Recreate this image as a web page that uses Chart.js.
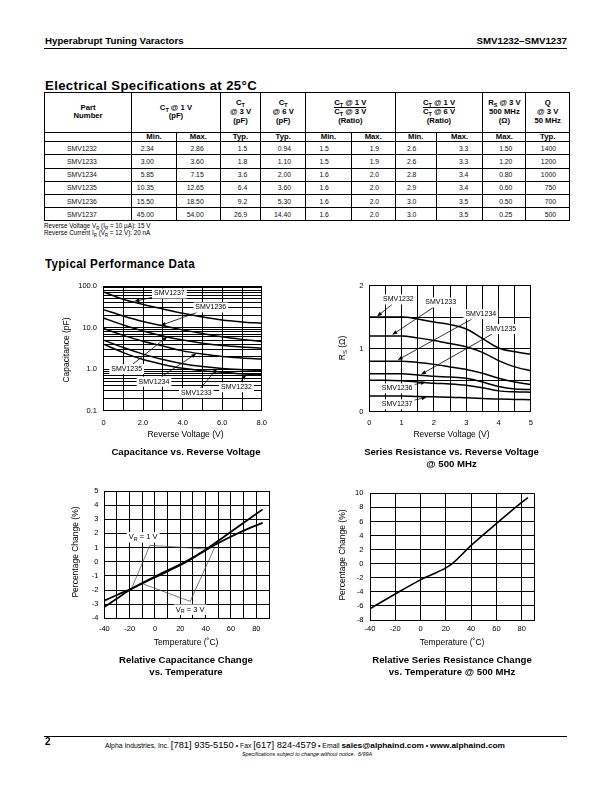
<!DOCTYPE html>
<html>
<head>
<meta charset="utf-8">
<script src="https://cdn.jsdelivr.net/npm/chart.js@4.4.0/dist/chart.umd.min.js"></script>
<style>
  body { margin: 0; width: 612px; height: 792px; position: relative; background: #fff; color: #000;
         font-family: "Liberation Sans", Arial, Helvetica, sans-serif; overflow: hidden; }
  .abs { position: absolute; white-space: nowrap; }
  .ct { position: absolute; white-space: nowrap; transform: translate(-50%, -50%); }
  .vt { position: absolute; white-space: nowrap; transform: translate(-50%, -50%) rotate(-90deg); font-size: 8.5px; }
  .axt { font-size: 8.5px; }
  .cap { font-size: 9.6px; font-weight: bold; }
  .head { font-weight: bold; font-size: 13.5px; letter-spacing: 0.4px; transform-origin: left center; line-height: 14px; }
  canvas { position: absolute; }
  sub { font-size: 70%; vertical-align: -1.5px; line-height: 0; }
  #spec { position: absolute; left: 44px; top: 92px; width: 525px; border-collapse: collapse; table-layout: fixed; }
  #spec td, #spec th { border: 1px solid #000; padding: 0; vertical-align: middle; }
  #spec th { font-size: 7.7px; font-weight: bold; text-align: center; line-height: 8.6px; }
  #spec tr.hd { height: 39.5px; }
  #spec tr.sb { height: 9.8px; }
  #spec tr.sb td { font-size: 7.7px; font-weight: bold; text-align: center; line-height: 8px; }
  #spec tr.dr { height: 13.2px; }
  #spec tr.dr td { font-size: 6.8px; text-align: right; color: #111; }
  .bar { display: inline-block; border-top: 1px solid #000; line-height: 8px; }
  .note { font-size: 6.3px; line-height: 7px; }
</style>
</head>
<body>

<div class="abs" style="left:45px;top:36px;font-size:9.7px;font-weight:bold;line-height:10px">Hyperabrupt Tuning Varactors</div>
<div class="abs" style="right:45px;top:36px;font-size:9.7px;font-weight:bold;line-height:10px">SMV1232–SMV1237</div>
<div class="abs" style="left:44px;top:47.5px;width:523px;height:1px;background:#000"></div>

<div id="h1" class="abs head" style="left:45px;top:78.5px">Electrical Specifications at 25°C</div>

<table id="spec">
  <colgroup id="cols"></colgroup>
  <tr class="hd">
    <th>Part<br>Number</th>
    <th colspan="2">C<sub>T</sub> @ 1 V<br>(pF)</th>
    <th>C<sub>T</sub><br>@ 3 V<br>(pF)</th>
    <th>C<sub>T</sub><br>@ 6 V<br>(pF)</th>
    <th colspan="2">C<sub>T</sub> @ 1 V<br><span class="bar">C<sub>T</sub> @ 3 V</span><br>(Ratio)</th>
    <th colspan="2">C<sub>T</sub> @ 1 V<br><span class="bar">C<sub>T</sub> @ 6 V</span><br>(Ratio)</th>
    <th>R<sub>S</sub> @ 3 V<br>500 MHz<br>(Ω)</th>
    <th>Q<br>@ 3 V<br>50 MHz</th>
  </tr>
  <tr class="sb" id="subRow"></tr>
</table>
<div class="abs note" style="left:44px;top:222px">Reverse Voltage V<sub>R</sub> (I<sub>R</sub> = 10 µA): 15 V</div>
<div class="abs note" style="left:44px;top:229px">Reverse Current I<sub>R</sub> (V<sub>R</sub> = 12 V): 20 nA</div>

<div id="h2" class="abs head" style="left:45px;top:256.5px">Typical Performance Data</div>

<canvas id="capChart" width="220" height="160" style="left:55px;top:275px"></canvas>
<canvas id="rsChart" width="220" height="160" style="left:320px;top:275px"></canvas>
<canvas id="tcChart" width="220" height="160" style="left:55px;top:480px"></canvas>
<canvas id="rtChart" width="220" height="160" style="left:320px;top:480px"></canvas>

<div class="vt" style="left:66px;top:350px">Capacitance (pF)</div>
<div class="ct axt" style="left:185.5px;top:433.5px">Reverse Voltage (V)</div>
<div class="ct cap" style="left:186px;top:451px">Capacitance vs. Reverse Voltage</div>

<div class="vt" style="left:342px;top:348px">R<sub>S</sub> (Ω)</div>
<div class="ct axt" style="left:451.5px;top:433.5px">Reverse Voltage (V)</div>
<div class="ct cap" style="left:451.5px;top:451px">Series Resistance vs. Reverse Voltage</div>
<div class="ct cap" style="left:451.5px;top:463px">@ 500 MHz</div>

<div class="vt" style="left:75px;top:552px">Percentage Change (%)</div>
<div class="ct axt" style="left:186px;top:641.5px">Temperature (˚C)</div>
<div class="ct cap" style="left:186px;top:658.5px">Relative Capacitance Change</div>
<div class="ct cap" style="left:186px;top:670.5px">vs. Temperature</div>

<div class="vt" style="left:342px;top:555px">Percentage Change (%)</div>
<div class="ct axt" style="left:452px;top:641.5px">Temperature (˚C)</div>
<div class="ct cap" style="left:452px;top:658.5px">Relative Series Resistance Change</div>
<div class="ct cap" style="left:452px;top:670.5px">vs. Temperature @ 500 MHz</div>

<div class="abs" style="left:44px;top:735.5px;width:523px;height:1.2px;background:#000"></div>
<div class="abs" style="left:45px;top:737px;font-size:10px;font-weight:bold;line-height:10px">2</div>
<div id="foot" class="abs" style="left:105px;top:738px;line-height:10px;transform-origin:left center">
  <span style="font-size:6.6px">Alpha Industries, Inc. </span><span style="font-size:9px">[781] 935-5150</span><span style="font-size:6.6px"> • Fax </span><span style="font-size:9px">[617] 824-4579</span><span style="font-size:6.6px"> • Email </span><span style="font-size:8px;font-weight:bold">sales@alphaind.com</span><span style="font-size:6.6px"> • </span><span style="font-size:8px;font-weight:bold">www.alphaind.com</span>
</div>
<div class="ct" style="left:307px;top:754px;font-size:5.4px;font-style:italic">Specifications subject to change without notice.&nbsp;&nbsp;6/99A</div>

<script>
// ---------- table values ----------
const partNumbers = ["SMV1232", "SMV1233", "SMV1234", "SMV1235", "SMV1236", "SMV1237"];
const ct1Min = ["2.34", "3.00", "5.85", "10.35", "15.50", "45.00"];
const ct1Max = ["2.86", "3.60", "7.15", "12.65", "18.50", "54.00"];
const ct3Typ = ["1.5", "1.8", "3.6", "6.4", "9.2", "26.9"];
const ct6Typ = ["0.94", "1.10", "2.00", "3.60", "5.30", "14.40"];
const ratio13Min = ["1.5", "1.5", "1.6", "1.6", "1.6", "1.6"];
const ratio13Max = ["1.9", "1.9", "2.0", "2.0", "2.0", "2.0"];
const ratio16Min = ["2.6", "2.6", "2.8", "2.9", "3.0", "3.0"];
const ratio16Max = ["3.3", "3.3", "3.4", "3.4", "3.5", "3.5"];
const rsMax = ["1.50", "1.20", "0.80", "0.60", "0.50", "0.25"];
const qTyp = ["1400", "1200", "1000", "750", "700", "500"];
const subHeads = ["", "Min.", "Max.", "Typ.", "Typ.", "Min.", "Max.", "Min.", "Max.", "Max.", "Typ."];

// ---------- capacitance vs reverse voltage (pF) ----------
const capVolts = [0, 1, 2, 3, 4, 5, 6, 7, 8];
const cap1237 = [72, 48, 36, 28, 22, 18, 15.2, 13.7, 12.7];
const cap1236 = [27, 19, 14, 11, 8.8, 7.2, 6.0, 5.2, 4.6];
const cap1235 = [17, 11.5, 8.3, 6.3, 5.0, 4.2, 3.7, 3.4, 3.2];
const cap1234 = [9.5, 6.5, 4.7, 3.6, 2.75, 2.3, 2.0, 1.85, 1.75];
const cap1233 = [5.0, 3.3, 2.3, 1.7, 1.35, 1.15, 1.03, 0.97, 0.93];
const cap1232 = [4.0, 2.5, 1.7, 1.3, 1.05, 0.92, 0.84, 0.77, 0.74];
const capXGrid = [0, 1, 2, 3, 4, 5, 6, 7, 8];
const capXTicks = [0, 2, 4, 6, 8];
const capXLabels = ["0", "2.0", "4.0", "6.0", "8.0"];
const capDecades = [0.1, 1, 10];
const logSteps = [1, 2, 3, 4, 5, 6, 7, 8, 9];
const capYTicks = [0.1, 1, 10, 100];
const capYLabels = ["0.1", "1.0", "10.0", "100.0"];

// ---------- series resistance vs reverse voltage (ohm) ----------
const rsVolts = [0, 0.5, 1, 1.5, 2, 2.5, 3, 3.5, 4, 4.5, 5];
const rs1232 = [1.50, 1.50, 1.50, 1.47, 1.42, 1.38, 1.31, 1.16, 1.01, 0.95, 0.91];
const rs1233 = [1.20, 1.20, 1.20, 1.17, 1.13, 1.08, 1.03, 0.94, 0.81, 0.71, 0.65];
const rs1234 = [0.80, 0.80, 0.80, 0.78, 0.75, 0.71, 0.67, 0.61, 0.53, 0.47, 0.43];
const rs1235 = [0.60, 0.60, 0.60, 0.58, 0.56, 0.55, 0.53, 0.47, 0.40, 0.36, 0.35];
const rs1236 = [0.50, 0.50, 0.49, 0.47, 0.45, 0.44, 0.42, 0.38, 0.33, 0.315, 0.31];
const rs1237 = [0.25, 0.25, 0.25, 0.24, 0.235, 0.23, 0.22, 0.21, 0.20, 0.195, 0.19];
const rsXGrid = [0, 0.5, 1, 1.5, 2, 2.5, 3, 3.5, 4, 4.5, 5];
const rsXTicks = [0, 1, 2, 3, 4, 5];
const rsYGrid = [0, 0.5, 1, 1.5, 2];
const rsYTicks = [0, 1, 2];

// ---------- relative capacitance change vs temperature (%) ----------
const tcTemps = [-40, -30, -18, 0, 25, 40, 55, 70, 85];
const tcLineA = [-3.2, -2.6, -1.9, -1.05, 0.05, 0.85, 1.8, 2.75, 3.7];
const tcLineB = [-2.75, -2.35, -1.88, -1.1, 0, 0.82, 1.55, 2.2, 2.75];
const tcXGrid = [-40, -30, -20, -10, 0, 10, 20, 30, 40, 50, 60, 70, 80, 90];
const tcYGrid = [-4, -3, -2, -1, 0, 1, 2, 3, 4, 5];

// ---------- relative series resistance change vs temperature (%) ----------
const rtTemps = [-40, -20, 0, 20, 25, 40, 60, 80, 85];
const rtChange = [-6.4, -4.3, -2.3, -0.6, 0, 2.6, 5.7, 8.7, 9.4];
const rtXGrid = [-40, -20, 0, 20, 40, 60, 80, 90];
const rtYGrid = [-8, -6, -4, -2, 0, 2, 4, 6, 8, 10];
const tempTicks = [-40, -20, 0, 20, 40, 60, 80];

// ---------- callouts (data coordinates) ----------
const capCallouts = [
  { text: "SMV1237", at: [3.33, 66], to: [1.56, 42.7] },
  { text: "SMV1236", at: [5.42, 30.4], to: [2.88, 11.2] },
  { text: "SMV1235", at: [1.17, 1.0], to: [3.23, 6.1] },
  { text: "SMV1234", at: [2.55, 0.5], to: [4.69, 2.37] },
  { text: "SMV1233", at: [4.69, 0.265], to: [5.75, 1.04] },
  { text: "SMV1232", at: [6.72, 0.367], to: [7.21, 0.74] }
];
const rsCallouts = [
  { text: "SMV1232", at: [0.9, 1.78], to: [0.24, 1.51] },
  { text: "SMV1233", at: [2.21, 1.73], to: [0.71, 1.22] },
  { text: "SMV1234", at: [3.45, 1.545], to: [0.88, 0.82] },
  { text: "SMV1235", at: [4.07, 1.31], to: [1.6, 0.59] },
  { text: "SMV1236", at: [0.86, 0.37], to: [1.75, 0.47] },
  { text: "SMV1237", at: [0.86, 0.116], to: [1.77, 0.23] }
];
const tcCallouts = [
  { parts: [["V"], ["R", 1], [" = 1 V"]], at: [-9.3, 1.72], vertex: [-4, 1.16], ends: [[-18.3, -1.86], [40.3, 0.9]] },
  { parts: [["V"], ["R", 1], [" = 3 V"]], at: [27.8, -3.39], vertex: [27.8, -2.8], ends: [[-9.2, -1.58], [46.9, 0.97]] }
];

const FONT = '"Liberation Sans", Arial, Helvetica, sans-serif';

// build the spec table
const colWidths = [87.2, 44.7, 43.8, 40.6, 44.8, 45.8, 43.7, 41.3, 46.5, 43, 43.6];
const padRight = [0, 22, 16, 13, 14, 22, 15.5, 19.5, 14, 13, 13];
const cols = document.getElementById("cols");
colWidths.forEach((w) => {
  const c = document.createElement("col");
  c.style.width = w + "px";
  cols.appendChild(c);
});
const subRow = document.getElementById("subRow");
subHeads.forEach((s) => {
  const td = document.createElement("td");
  td.textContent = s;
  subRow.appendChild(td);
});
const columns = [partNumbers, ct1Min, ct1Max, ct3Typ, ct6Typ, ratio13Min, ratio13Max, ratio16Min, ratio16Max, rsMax, qTyp];
const spec = document.getElementById("spec");
partNumbers.forEach((p, r) => {
  const tr = document.createElement("tr");
  tr.className = "dr";
  columns.forEach((col, c) => {
    const td = document.createElement("td");
    td.textContent = col[r];
    if (c === 0) {
      td.style.textAlign = "left";
      td.style.paddingLeft = "22px";
    } else {
      td.style.paddingRight = padRight[c] + "px";
    }
    tr.appendChild(td);
  });
  spec.appendChild(tr);
});

// condensed headings / footer squeezed to the widths on the page
const fitWidth = (id, target) => {
  const el = document.getElementById(id);
  const w = el.getBoundingClientRect().width;
  el.style.transform = "scaleX(" + (target / w) + ")";
};
fitWidth("h1", 212);
fitWidth("h2", 150);
fitWidth("foot", 400);

// ---------- callout plugin ----------
const drawParts = (ctx, parts, cx, cy, size) => {
  let w = 0;
  const widths = parts.map((p) => {
    ctx.font = (p[1] ? size * 0.72 : size) + "px " + FONT;
    const m = ctx.measureText(p[0]).width;
    w += m;
    return m;
  });
  return { w, draw: () => {
    let x = cx - w / 2;
    parts.forEach((p, i) => {
      ctx.font = (p[1] ? size * 0.72 : size) + "px " + FONT;
      ctx.fillText(p[0], x, cy + (p[1] ? size * 0.3 : 0));
      x += widths[i];
    });
  } };
};

const calloutPlugin = {
  id: "callouts",
  afterDatasetsDraw(chart, args, opts) {
    const ctx = chart.ctx;
    const xs = chart.scales.x;
    const ys = chart.scales.y;
    const px = (p) => [xs.getPixelForValue(p[0]), ys.getPixelForValue(p[1])];
    const size = opts.size || 7;
    ctx.save();
    ctx.textAlign = "left";
    ctx.textBaseline = "middle";
    (opts.items || []).forEach((c) => {
      const [cx, cy] = px(c.at);
      const parts = c.parts || [[c.text]];
      const label = drawParts(ctx, parts, cx, cy, size);
      const hw = label.w / 2 + 2;
      const hh = size / 2 + 1.5;
      ctx.strokeStyle = c.ends ? "#444" : "#000";
      ctx.fillStyle = "#000";
      if (c.to) {
        const [tx, ty] = px(c.to);
        const dx = tx - cx;
        const dy = ty - cy;
        const t = Math.min(hw / Math.abs(dx || 1e-6), hh / Math.abs(dy || 1e-6));
        const sx = cx + dx * t;
        const sy = cy + dy * t;
        const ang = Math.atan2(ty - sy, tx - sx);
        ctx.lineWidth = 0.8;
        ctx.beginPath();
        ctx.moveTo(sx, sy);
        ctx.lineTo(tx - 4 * Math.cos(ang), ty - 4 * Math.sin(ang));
        ctx.stroke();
        ctx.beginPath();
        ctx.moveTo(tx, ty);
        ctx.lineTo(tx - 5 * Math.cos(ang) + 2 * Math.sin(ang), ty - 5 * Math.sin(ang) - 2 * Math.cos(ang));
        ctx.lineTo(tx - 5 * Math.cos(ang) - 2 * Math.sin(ang), ty - 5 * Math.sin(ang) + 2 * Math.cos(ang));
        ctx.closePath();
        ctx.fill();
      }
      if (c.ends) {
        const v = px(c.vertex);
        ctx.lineWidth = 0.7;
        c.ends.forEach((e) => {
          const p = px(e);
          ctx.beginPath();
          ctx.moveTo(v[0], v[1]);
          ctx.lineTo(p[0], p[1]);
          ctx.stroke();
        });
      }
      ctx.fillStyle = "#fff";
      ctx.fillRect(cx - hw, cy - hh, hw * 2, hh * 2);
      ctx.fillStyle = "#000";
      label.draw();
    });
    ctx.restore();
  }
};

// ---------- chart helpers ----------
const series = (xs, ys, width) => ({
  data: xs.map((x, i) => ({ x, y: ys[i] })),
  borderColor: "#000",
  borderWidth: width,
  pointRadius: 0,
  fill: false,
  cubicInterpolationMode: "monotone"
});

const axis = (o) => ({
  type: o.type || "linear",
  min: o.min,
  max: o.max,
  grid: { color: "#000", lineWidth: 1, drawTicks: false },
  border: { color: "#000", width: 1 },
  ticks: {
    autoSkip: false,
    maxRotation: 0,
    minRotation: 0,
    color: "#000",
    padding: o.pad,
    font: { family: FONT, size: 7.5 },
    callback: (value) => {
      const i = o.tickValues.findIndex((t) => Math.abs(t - value) < 1e-9);
      return i < 0 ? "" : o.tickLabels[i];
    }
  },
  afterBuildTicks: (scale) => {
    scale.ticks = o.grid.map((v) => ({ value: v }));
  },
  afterFit: (scale) => {
    if (o.width !== undefined) scale.width = o.width;
    if (o.height !== undefined) scale.height = o.height;
  }
});

const makeChart = (id, datasets, xAxis, yAxis, padding, callouts) =>
  new Chart(document.getElementById(id), {
    type: "line",
    data: { datasets },
    options: {
      responsive: false,
      animation: false,
      devicePixelRatio: 1,
      layout: { padding },
      plugins: { legend: { display: false }, tooltip: { enabled: false }, callouts },
      scales: { x: axis(xAxis), y: axis(yAxis) }
    },
    plugins: [calloutPlugin]
  });

const capYGrid = [];
capDecades.forEach((d) => logSteps.forEach((s) => capYGrid.push(d * s)));
capYGrid.push(100);

makeChart("capChart",
  [cap1237, cap1236, cap1235, cap1234, cap1233, cap1232].map((c) => series(capVolts, c, 1.5)),
  { min: 0, max: 8, grid: capXGrid, tickValues: capXTicks, tickLabels: capXLabels, pad: 8, height: 24.3 },
  { type: "logarithmic", min: 0.1, max: 100, grid: capYGrid, tickValues: capYTicks, tickLabels: capYLabels, pad: 6.5, width: 48.5 },
  { top: 10, right: 7, left: 0, bottom: 0 },
  { items: capCallouts, size: 7 });

makeChart("rsChart",
  [rs1232, rs1233, rs1234, rs1235, rs1236, rs1237].map((r) => series(rsVolts, r, 1.5)),
  { min: 0, max: 5, grid: rsXGrid, tickValues: rsXTicks, tickLabels: rsXTicks.map(String), pad: 7, height: 23.3 },
  { min: 0, max: 2, grid: rsYGrid, tickValues: rsYTicks, tickLabels: rsYTicks.map(String), pad: 6, width: 49.3 },
  { top: 9.3, right: 6.5, left: 0, bottom: 0 },
  { items: rsCallouts, size: 7 });

makeChart("tcChart",
  [series(tcTemps, tcLineA, 1.8), series(tcTemps, tcLineB, 1.8)],
  { min: -40, max: 90, grid: tcXGrid, tickValues: tempTicks, tickLabels: tempTicks.map(String), pad: 6, height: 21.7 },
  { min: -4, max: 5, grid: tcYGrid, tickValues: tcYGrid, tickLabels: tcYGrid.map(String), pad: 6, width: 49.3 },
  { top: 11, right: 5.7, left: 0, bottom: 0 },
  { items: tcCallouts, size: 7.5 });

makeChart("rtChart",
  [series(rtTemps, rtChange, 1.6)],
  { min: -40, max: 90, grid: rtXGrid, tickValues: tempTicks, tickLabels: tempTicks.map(String), pad: 4, height: 20 },
  { min: -8, max: 10, grid: rtYGrid, tickValues: rtYGrid, tickLabels: rtYGrid.map(String), pad: 6.7, width: 50 },
  { top: 13.3, right: 5.7, left: 0, bottom: 0 },
  { items: [], size: 7 });
</script>
</body>
</html>
